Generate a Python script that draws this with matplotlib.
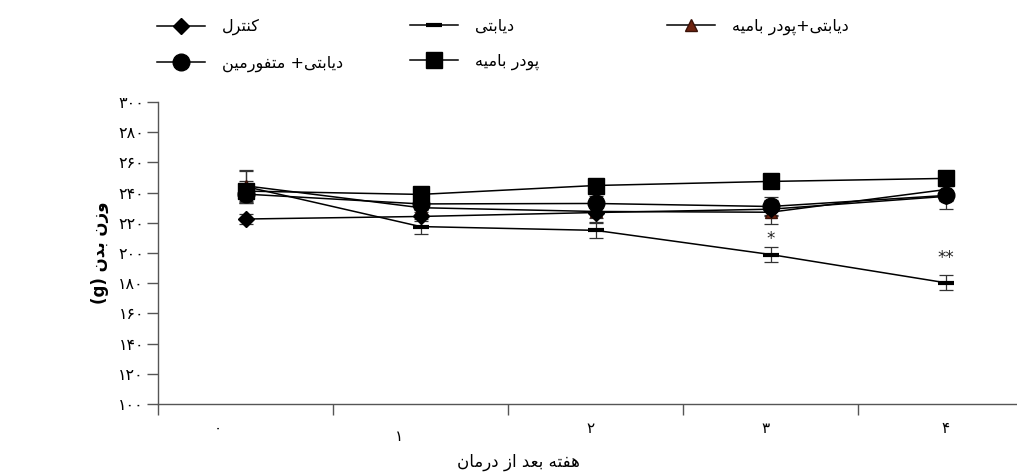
import numpy as np
import matplotlib
matplotlib.use('Agg')
import matplotlib.pyplot as plt
import matplotlib.transforms as mtransforms

plt.rcParams['font.family'] = ['DejaVu Sans']

# data (body weight, g)
weeks = [0, 1, 2, 3, 4]
week_labels = ['۰', '۱', '۲', '۳', '۴']
control = [222.5, 224.2, 226.8, 229.0, 237.5]
control_err = [3, 3, 6, 4, 3]
diabetic = [244.0, 217.5, 215.0, 199.0, 180.3]
diabetic_err = [11, 5, 5, 5, 5]
diab_okra = [244.5, 230.0, 227.5, 227.0, 242.0]
diab_okra_err = [10, 4, 4, 8, 5]
diab_metformin = [239.0, 232.5, 232.8, 230.8, 238.1]
diab_metformin_err = [6, 4, 5, 6, 9]
okra = [241.0, 238.8, 244.7, 247.4, 249.4]
okra_err = [7, 3, 3, 3, 5]
stars = ['', '', '', '*', '**']
star_y = [None, None, None, 209, 197]

yticks = [100, 120, 140, 160, 180, 200, 220, 240, 260, 280, 300]

names = ['کنترل', 'دیابتی', 'دیابتی+پودر بامیه', 'دیابتی+ متفورمین', 'پودر بامیه']

# minimal arabic/persian shaping (matplotlib has no bidi / joining)
FORMS = {
    'ا': ('\uFE8D', '\uFE8E', None, None),
    'ب': ('\uFE8F', '\uFE90', '\uFE91', '\uFE92'),
    'ت': ('\uFE95', '\uFE96', '\uFE97', '\uFE98'),
    'د': ('\uFEA9', '\uFEAA', None, None),
    'ر': ('\uFEAD', '\uFEAE', None, None),
    'ز': ('\uFEAF', '\uFEB0', None, None),
    'ع': ('\uFEC9', '\uFECA', '\uFECB', '\uFECC'),
    'ف': ('\uFED1', '\uFED2', '\uFED3', '\uFED4'),
    'ل': ('\uFEDD', '\uFEDE', '\uFEDF', '\uFEE0'),
    'م': ('\uFEE1', '\uFEE2', '\uFEE3', '\uFEE4'),
    'ن': ('\uFEE5', '\uFEE6', '\uFEE7', '\uFEE8'),
    'ه': ('\uFEE9', '\uFEEA', '\uFEEB', '\uFEEC'),
    'و': ('\uFEED', '\uFEEE', None, None),
    'پ': ('\uFB56', '\uFB57', '\uFB58', '\uFB59'),
    'ک': ('\uFB8E', '\uFB8F', '\uFB90', '\uFB91'),
    'ی': ('\uFBFC', '\uFBFD', '\uFBFE', '\uFBFF'),
}


def fa(text):
    out = []
    for i, ch in enumerate(text):
        if ch not in FORMS:
            out.append(ch)
            continue
        prev = text[i - 1] if i > 0 else ''
        nxt = text[i + 1] if i + 1 < len(text) else ''
        jp = prev in FORMS and FORMS[prev][2] is not None
        jn = FORMS[ch][2] is not None and nxt in FORMS
        iso, fin, ini, med = FORMS[ch]
        if jp and jn:
            out.append(med)
        elif jp:
            out.append(fin)
        elif jn:
            out.append(ini)
        else:
            out.append(iso)
    return ''.join(reversed(out))


def fa_num(n):
    return ''.join('۰۱۲۳۴۵۶۷۸۹'[int(d)] for d in str(n))


W, H = 1017, 473
fig = plt.figure(figsize=(W / 100, H / 100), dpi=100)
ax = fig.add_axes([158 / W, 1 - 404 / H, (W - 158) / W, (404 - 102) / H])

x = np.array(weeks) + 0.5
ekw = dict(ecolor='#333333', elinewidth=0.9, capsize=5, capthick=0.9, color='black', lw=1.1)

l_diab = ax.errorbar(x, diabetic, yerr=diabetic_err, marker='_', ms=12, **ekw)
l_diab[0].set_markeredgewidth(3)
l_dok = ax.errorbar(x, diab_okra, yerr=diab_okra_err, marker='^', ms=8, mfc='#6e2310', mec='#3a1208', **ekw)
l_ctrl = ax.errorbar(x, control, yerr=control_err, marker='D', ms=8.5, mfc='black', mec='black', **ekw)
l_met = ax.errorbar(x, diab_metformin, yerr=diab_metformin_err, marker='o', ms=12, mfc='black', mec='black',
                    **ekw)
l_okra = ax.errorbar(x, okra, yerr=okra_err, marker='s', ms=11, mfc='black', mec='black', **ekw)

for xi, yi, s in zip(x, star_y, stars):
    if s:
        ax.text(xi, yi, s, ha='center', va='center', fontsize=12, color='#222222')

ax.set_xlim(0, (W - 158) / 175)
ax.set_ylim(100, 300)
ax.set_yticks(yticks)
ax.set_yticklabels([fa_num(v) for v in yticks], fontsize=11.5)
ax.set_xticks(weeks)
ax.set_xticklabels([])
for s in ['top', 'right']:
    ax.spines[s].set_visible(False)
for s in ['left', 'bottom']:
    ax.spines[s].set_color('#555555')
    ax.spines[s].set_linewidth(1)
ax.tick_params(direction='out', length=8, width=1, color='#555555', pad=2)

# week labels under the axis (slightly scattered as in the original)
label_nudge = [-0.16, -0.12, -0.03, -0.03, 0.0]
label_drop = [24, 32, 24, 24, 24]
trans = mtransforms.blended_transform_factory(ax.transData, ax.transAxes)
for xi, lab, dx, dy in zip(x, week_labels, label_nudge, label_drop):
    ax.annotate(lab, (xi + dx, 0), xycoords=trans, xytext=(0, -dy), textcoords='offset pixels',
                ha='center', va='center', fontsize=11)

fig.text(100 / W, 1 - 253 / H, '(g) ' + fa('وزن بدن'), rotation=90, ha='center', va='center',
         fontsize=12, fontweight='bold')
fig.text(518 / W, 1 - 462 / H, fa('هفته بعد از درمان'), ha='center', va='center', fontsize=12)

lkw = dict(frameon=False, loc='upper left', borderpad=0, borderaxespad=0, handlelength=3.0,
           handletextpad=1.06, labelspacing=1.25, fontsize=11.5)
fig.legend([l_ctrl[0], l_met[0]], [fa(names[0]), fa(names[3])], bbox_to_anchor=(157 / W, 1 - 19 / H), **lkw)
fig.legend([l_diab[0], l_okra[0]], [fa(names[1]), fa(names[4])], bbox_to_anchor=(410 / W, 1 - 19 / H), **lkw)
fig.legend([l_dok[0]], [fa(names[2])], bbox_to_anchor=(667 / W, 1 - 19 / H), **lkw)

fig.savefig('out.png', dpi=100)
